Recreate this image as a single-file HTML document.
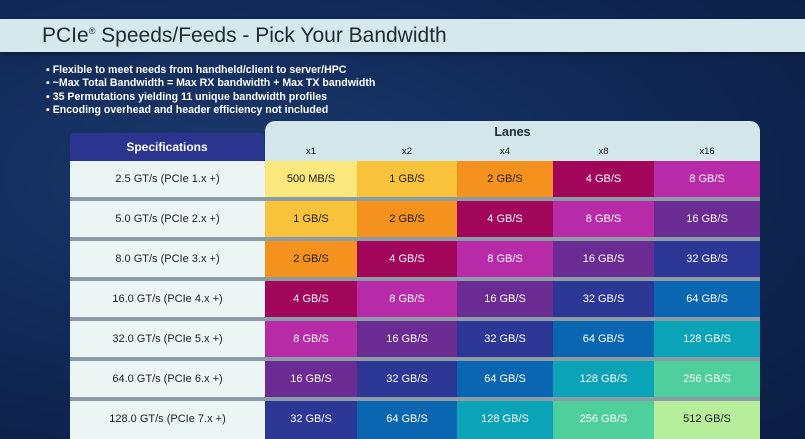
<!DOCTYPE html>
<html><head><meta charset="utf-8"><style>
*{margin:0;padding:0;box-sizing:border-box}
body{width:805px;height:439px;overflow:hidden;background:#0f2350;font-family:"Liberation Sans",sans-serif;position:relative}
.bg{position:absolute;inset:0;background:radial-gradient(ellipse at 30% 40%,#1a3a6e 0%,#112a58 45%,#0b1d42 100%)}
.title{position:absolute;left:0;top:19px;width:805px;height:33px;background:#d5e8ec;box-shadow:0 2px 4px rgba(0,0,0,.4)}
.title span{position:absolute;left:42px;top:5px;font-size:21px;color:#1f2a33}
.bul{position:absolute;left:46px;top:64px;color:#fff;font-weight:bold;font-size:10.6px;line-height:13.3px}
.panel{position:absolute;left:265px;top:121px;width:495px;height:318px;background:#d3e6ea;border-radius:10px 10px 0 0}
.lanes{position:absolute;left:265px;top:125px;width:495px;text-align:center;font-weight:bold;font-size:12.5px;color:#1d2a35}
.lh{position:absolute;top:146px;font-size:9.5px;color:#222;text-align:center}
.spec{position:absolute;left:70px;top:133px;width:194px;height:28px;background:#2b3590;border-radius:3px;color:#fff;font-weight:bold;font-size:12px;text-align:center;line-height:28px}
.sep{position:absolute;left:70px;width:690px;height:4px;background:#8c9ca6}
.c{position:absolute;height:36px;line-height:36px;text-align:center;font-size:11px;color:#fff}
.s{background:#ebf5f3;color:#222;left:70px;width:195px}
.d{color:#222}
</style></head><body>
<div class="bg"></div>
<div class="title"><span>PCIe<sup style="font-size:9px">®</sup> Speeds/Feeds - Pick Your Bandwidth</span></div>
<div class="bul">▪ Flexible to meet needs from handheld/client to server/HPC<br>▪ ~Max Total Bandwidth = Max RX bandwidth + Max TX bandwidth<br>▪ 35 Permutations yielding 11 unique bandwidth profiles<br>▪ Encoding overhead and header efficiency not included</div>
<div class="panel"></div>
<div class="lanes">Lanes</div>
<div class="lh" style="left:265px;width:92px">x1</div>
<div class="lh" style="left:357px;width:100px">x2</div>
<div class="lh" style="left:457px;width:96px">x4</div>
<div class="lh" style="left:553px;width:101px">x8</div>
<div class="lh" style="left:654px;width:106px">x16</div>
<div class="spec">Specifications</div>

<div class="sep" style="top:197px"></div>
<div class="sep" style="top:237px"></div>
<div class="sep" style="top:277px"></div>
<div class="sep" style="top:317px"></div>
<div class="sep" style="top:357px"></div>
<div class="sep" style="top:397px"></div>

<!-- row1 -->
<div class="c s" style="top:161px">2.5 GT/s (PCIe 1.x +)</div>
<div class="c d" style="top:161px;left:265px;width:92px;background:#fbe87c">500 MB/S</div>
<div class="c d" style="top:161px;left:357px;width:100px;background:#f8c23b">1 GB/S</div>
<div class="c d" style="top:161px;left:457px;width:96px;background:#f5921e">2 GB/S</div>
<div class="c" style="top:161px;left:553px;width:101px;background:#a1065b">4 GB/S</div>
<div class="c" style="top:161px;left:654px;width:106px;background:#b82ba8">8 GB/S</div>
<!-- row2 -->
<div class="c s" style="top:201px">5.0 GT/s (PCIe 2.x +)</div>
<div class="c d" style="top:201px;left:265px;width:92px;background:#f8c23b">1 GB/S</div>
<div class="c d" style="top:201px;left:357px;width:100px;background:#f5921e">2 GB/S</div>
<div class="c" style="top:201px;left:457px;width:96px;background:#a1065b">4 GB/S</div>
<div class="c" style="top:201px;left:553px;width:101px;background:#b82ba8">8 GB/S</div>
<div class="c" style="top:201px;left:654px;width:106px;background:#6a2c93">16 GB/S</div>
<!-- row3 -->
<div class="c s" style="top:241px">8.0 GT/s (PCIe 3.x +)</div>
<div class="c d" style="top:241px;left:265px;width:92px;background:#f5921e">2 GB/S</div>
<div class="c" style="top:241px;left:357px;width:100px;background:#a1065b">4 GB/S</div>
<div class="c" style="top:241px;left:457px;width:96px;background:#b82ba8">8 GB/S</div>
<div class="c" style="top:241px;left:553px;width:101px;background:#6a2c93">16 GB/S</div>
<div class="c" style="top:241px;left:654px;width:106px;background:#2d3796">32 GB/S</div>
<!-- row4 -->
<div class="c s" style="top:281px">16.0 GT/s (PCIe 4.x +)</div>
<div class="c" style="top:281px;left:265px;width:92px;background:#a1065b">4 GB/S</div>
<div class="c" style="top:281px;left:357px;width:100px;background:#b82ba8">8 GB/S</div>
<div class="c" style="top:281px;left:457px;width:96px;background:#6a2c93">16 GB/S</div>
<div class="c" style="top:281px;left:553px;width:101px;background:#2d3796">32 GB/S</div>
<div class="c" style="top:281px;left:654px;width:106px;background:#0b66b2">64 GB/S</div>
<!-- row5 -->
<div class="c s" style="top:321px">32.0 GT/s (PCIe 5.x +)</div>
<div class="c" style="top:321px;left:265px;width:92px;background:#b82ba8">8 GB/S</div>
<div class="c" style="top:321px;left:357px;width:100px;background:#6a2c93">16 GB/S</div>
<div class="c" style="top:321px;left:457px;width:96px;background:#2d3796">32 GB/S</div>
<div class="c" style="top:321px;left:553px;width:101px;background:#0b66b2">64 GB/S</div>
<div class="c" style="top:321px;left:654px;width:106px;background:#0ba3b8">128 GB/S</div>
<!-- row6 -->
<div class="c s" style="top:361px">64.0 GT/s (PCIe 6.x +)</div>
<div class="c" style="top:361px;left:265px;width:92px;background:#6a2c93">16 GB/S</div>
<div class="c" style="top:361px;left:357px;width:100px;background:#2d3796">32 GB/S</div>
<div class="c" style="top:361px;left:457px;width:96px;background:#0b66b2">64 GB/S</div>
<div class="c" style="top:361px;left:553px;width:101px;background:#0ba3b8">128 GB/S</div>
<div class="c" style="top:361px;left:654px;width:106px;background:#4ecf9b">256 GB/S</div>
<!-- row7 -->
<div class="c s" style="top:401px;height:38px">128.0 GT/s (PCIe 7.x +)</div>
<div class="c" style="top:401px;height:38px;left:265px;width:92px;background:#2d3796">32 GB/S</div>
<div class="c" style="top:401px;height:38px;left:357px;width:100px;background:#0b66b2">64 GB/S</div>
<div class="c" style="top:401px;height:38px;left:457px;width:96px;background:#0ba3b8">128 GB/S</div>
<div class="c" style="top:401px;height:38px;left:553px;width:101px;background:#4ecf9b">256 GB/S</div>
<div class="c d" style="top:401px;height:38px;left:654px;width:106px;background:#b6ee9b">512 GB/S</div>
</body></html>
